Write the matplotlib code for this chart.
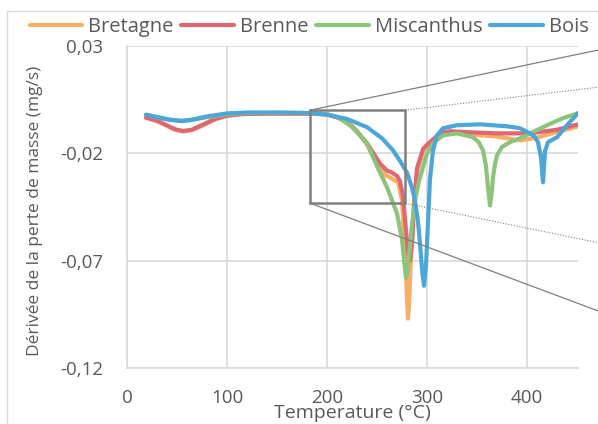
import matplotlib
matplotlib.use("Agg")
import matplotlib.pyplot as plt
from matplotlib.patches import Rectangle

# ---------------- data ----------------
series_names = ["Bretagne", "Brenne", "Miscanthus", "Bois"]
series_colors = ["#F9AE63", "#DE6772", "#8DC47B", "#4CA6DA"]

bretagne_T = [19, 30, 40, 48, 56, 65, 75, 88, 100, 115, 140, 170, 190, 200, 210, 220, 230, 240, 250,
              258, 265, 271, 275, 278, 280, 281, 282, 284, 287, 290, 296, 300, 306, 313, 323, 340,
              353, 370, 380, 393, 410, 430, 451]
bretagne_v = [-0.0034, -0.0050, -0.0072, -0.0090, -0.0098, -0.0092, -0.0072, -0.0042, -0.0025, -0.0017,
              -0.0015, -0.0015, -0.0016, -0.0020, -0.0032, -0.0055, -0.0095, -0.0160, -0.0245,
              -0.0300, -0.0318, -0.0335, -0.0420, -0.0650, -0.0880, -0.0970, -0.0900, -0.0680,
              -0.0430, -0.0290, -0.0190, -0.0165, -0.0138, -0.0118, -0.0102, -0.0108,
              -0.0116, -0.0122, -0.0130, -0.0140, -0.0127, -0.0100, -0.0075]

brenne_T = [19, 30, 40, 48, 56, 65, 75, 88, 100, 115, 140, 170, 190, 200, 215, 226, 240, 253, 260,
            265, 270, 273, 276, 279, 281, 283, 285, 287, 290, 296, 300, 306, 313, 323, 343, 370,
            403, 430, 451]
brenne_v = [-0.0034, -0.0048, -0.0070, -0.0088, -0.0096, -0.0090, -0.0068, -0.0040, -0.0024, -0.0017,
            -0.0015, -0.0015, -0.0015, -0.0018, -0.0040, -0.0078, -0.0153, -0.0248, -0.0280,
            -0.0290, -0.0305, -0.0330, -0.0400, -0.0560, -0.0660, -0.0700, -0.0620, -0.0450,
            -0.0270, -0.0180, -0.0160, -0.0135, -0.0107, -0.0097, -0.0102, -0.0107,
            -0.0107, -0.0090, -0.0065]

miscanthus_T = [19, 30, 42, 55, 65, 80, 100, 120, 150, 180, 200, 210, 223, 232, 240, 250, 260, 270,
                275, 278, 279, 280, 282, 285, 288, 292, 296, 300, 306, 316, 330, 346, 352, 356,
                359, 361, 363, 365, 366, 368, 370, 375, 383, 393, 403, 420, 436, 451]
miscanthus_v = [-0.0020, -0.0030, -0.0042, -0.0048, -0.0043, -0.0032, -0.0018, -0.0012, -0.0011,
                -0.0012, -0.0018, -0.0030, -0.0069, -0.0110, -0.0153, -0.0260, -0.0358, -0.0480,
                -0.0600, -0.0740, -0.0780, -0.0760, -0.0680, -0.0530, -0.0420, -0.0330, -0.0265,
                -0.0200, -0.0153, -0.0116, -0.0107, -0.0125, -0.0150, -0.0186,
                -0.0260, -0.0360, -0.0443, -0.0370, -0.0310, -0.0250, -0.0209, -0.0170, -0.0148,
                -0.0130, -0.0107, -0.0069, -0.0036, -0.0013]

bois_T = [19, 30, 42, 55, 65, 80, 100, 120, 150, 180, 200, 220, 240, 255, 266, 275, 280, 285, 288,
          291, 293, 295, 297, 299, 301, 303, 306, 310, 316, 330, 353, 380, 393, 403, 408, 411,
          414, 416, 418, 421, 430, 440, 451]
bois_v = [-0.0020, -0.0032, -0.0044, -0.0050, -0.0044, -0.0028, -0.0014, -0.0010, -0.0010, -0.0012,
          -0.0020, -0.0040, -0.0078, -0.0130, -0.0186, -0.0250, -0.0290, -0.0360, -0.0420,
          -0.0520, -0.0620, -0.0740, -0.0817, -0.0720, -0.0520, -0.0320, -0.0186, -0.0116,
          -0.0083, -0.0069, -0.0065, -0.0074, -0.0083, -0.0107, -0.0125, -0.0148,
          -0.0220, -0.0335, -0.0190, -0.0148, -0.0125, -0.0069, -0.0013]

x_ticks = [0, 100, 200, 300, 400]
x_ticklabels = ["0", "100", "200", "300", "400"]
y_ticks = [0.03, -0.02, -0.07, -0.12]
y_ticklabels = ["0,03", "-0,02", "-0,07", "-0,12"]

x_label = "Temperature (°C)"
y_label = "Dérivée de la perte de masse (mg/s)"

# zoom box (data coordinates) and connector ends
box_T = (183, 278)
box_v = (-0.0432, 0.0001)

# ---------------- figure ----------------
plt.rcParams["font.family"] = ["Open Sans", "DejaVu Sans"]
text_color = "#595959"
grid_color = "#D9D9D9"

fig = plt.figure(figsize=(5.98, 4.24), dpi=100)
ax = fig.add_axes([127 / 598, 1 - 368 / 424, (578 - 127) / 598, (368 - 46) / 424])

all_T = [bretagne_T, brenne_T, miscanthus_T, bois_T]
all_v = [bretagne_v, brenne_v, miscanthus_v, bois_v]
for T, v, name, c in zip(all_T, all_v, series_names, series_colors):
    ax.plot(T, v, color=c, lw=3.0, label=name, solid_capstyle="round", solid_joinstyle="round")

ax.set_xlim(0, 451)
ax.set_ylim(-0.12, 0.03)
ax.set_xticks(x_ticks)
ax.set_xticklabels(x_ticklabels)
ax.set_yticks(y_ticks)
ax.set_yticklabels(y_ticklabels)
ax.tick_params(length=0, labelsize=13.5, colors=text_color, pad=17)
ax.tick_params(axis="x", pad=15)
ax.grid(True, color=grid_color, lw=1.2)
ax.set_axisbelow(True)
for s in ["top", "right"]:
    ax.spines[s].set_visible(False)
for s in ["left", "bottom"]:
    ax.spines[s].set_color(grid_color)
    ax.spines[s].set_linewidth(1.2)

ax.set_xlabel(x_label, fontsize=14, color=text_color)
ax.xaxis.set_label_coords(0.5, -(404 - 368) / 322)
ax.set_ylabel(y_label, fontsize=12.5, color=text_color)
ax.yaxis.set_label_coords((43 - 127) / 451, (368 - 211) / 322)

# zoom rectangle
ax.add_patch(Rectangle((box_T[0], box_v[0]), box_T[1] - box_T[0], box_v[1] - box_v[0],
                       fill=False, ec="#7F7F7F", lw=1.8, zorder=5))
end_T = 471
ax.plot([box_T[0], end_T], [box_v[1], 0.0281], color="#7F7F7F", lw=0.9, clip_on=False, zorder=4)
ax.plot([box_T[0], end_T], [box_v[0], -0.0934], color="#7F7F7F", lw=0.9, clip_on=False, zorder=4)
ax.plot([box_T[1], end_T], [box_v[1], 0.0108], color="#7F7F7F", lw=0.8, ls=(0, (1, 1.5)),
        clip_on=False, zorder=4)
ax.plot([box_T[1], end_T], [box_v[0], -0.0616], color="#7F7F7F", lw=0.8, ls=(0, (1, 1.5)),
        clip_on=False, zorder=4)

# chart border
fig.patches.append(Rectangle((7 / 598, -0.1), 1.2, 1 - 11 / 424 + 0.1, transform=fig.transFigure,
                             fill=False, ec=grid_color, lw=1.0))

leg = fig.legend(loc="center", bbox_to_anchor=(0.517, 1 - 27 / 424), ncol=4, frameon=False,
                 fontsize=14.5, handlelength=2.6, handletextpad=0.3, columnspacing=0.4,
                 borderaxespad=0)
for t in leg.get_texts():
    t.set_color(text_color)

fig.savefig("out.png", dpi=100)
